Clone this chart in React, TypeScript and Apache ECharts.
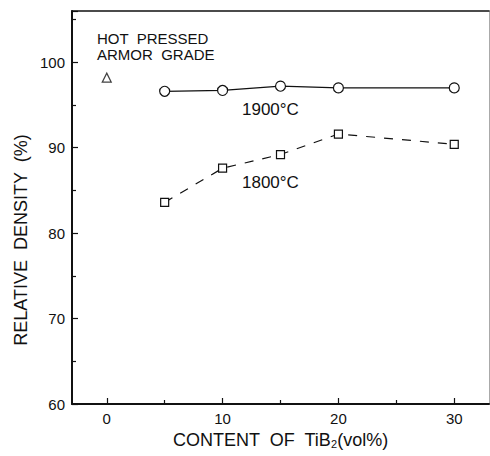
import React, { useEffect, useRef } from "react";
import * as echarts from "echarts";

const contentTiB2 = [5, 10, 15, 20, 30];
const density1900 = [96.6, 96.7, 97.2, 97.0, 97.0];
const density1800 = [83.6, 87.6, 89.2, 91.6, 90.4];
const hotPressedContent = [0];
const hotPressedDensity = [98.2];
const xMajorTicks = [0, 10, 20, 30];
const xMinorTicks = [5, 15, 25];

const FONT = "'Liberation Sans', Arial, sans-serif";
const INK = "#111";

export default function App() {
  const ref = useRef<HTMLDivElement>(null);
  useEffect(() => {
    if (!ref.current) return;
    const chart = echarts.init(ref.current, null, { renderer: "svg" });
    const pairs = (xs: number[], ys: number[]) => xs.map((x, i) => [x, ys[i]]);
    const grid = { left: 72, right: 1, top: 11, bottom: 52 };
    chart.setOption({
      animation: false,
      backgroundColor: "#fff",
      textStyle: { fontFamily: FONT, color: INK },
      grid: { ...grid, show: false },
      xAxis: [
        {
          type: "value",
          min: -3,
          max: 33,
          name: "CONTENT  OF  TiB{s|2}(vol%)",
          nameLocation: "middle",
          nameGap: 27,
          nameTextStyle: {
            fontSize: 18,
            color: INK,
            fontFamily: FONT,
            rich: { s: { fontSize: 11, verticalAlign: "bottom", fontFamily: FONT, color: INK } },
          },
          splitLine: { show: false },
          axisLine: { show: true, onZero: false, lineStyle: { color: INK, width: 2 } },
          axisTick: { show: true, inside: true, length: 6, customValues: xMajorTicks, lineStyle: { color: INK, width: 1.2 } },
          axisLabel: { customValues: xMajorTicks, fontSize: 15, color: INK, margin: 7, fontFamily: FONT },
        },
        {
          type: "value",
          min: -3,
          max: 33,
          position: "bottom",
          splitLine: { show: false },
          axisLine: { show: false },
          axisTick: { show: true, inside: true, length: 4, customValues: xMinorTicks, lineStyle: { color: INK, width: 1.2 } },
          axisLabel: { show: false },
        },
        {
          type: "value",
          min: -3,
          max: 33,
          position: "top",
          splitLine: { show: false },
          axisLine: { show: true, onZero: false, lineStyle: { color: INK, width: 1.5 } },
          axisTick: { show: false },
          axisLabel: { show: false },
        },
      ],
      yAxis: [
        {
          type: "value",
          min: 60,
          max: 106,
          interval: 10,
          splitLine: { show: false },
          axisLine: { show: true, onZero: false, lineStyle: { color: INK, width: 2 } },
          axisTick: { show: true, inside: true, length: 6, lineStyle: { color: INK, width: 1.2 } },
          minorTick: { show: true, splitNumber: 2, length: 4, lineStyle: { color: INK, width: 1.2 } },
          axisLabel: { fontSize: 15, color: INK, margin: 7, fontFamily: FONT, showMaxLabel: false },
        },
        {
          type: "value",
          min: 60,
          max: 106,
          interval: 10,
          position: "right",
          splitLine: { show: false },
          axisLine: { show: true, onZero: false, lineStyle: { color: "#aaa", width: 1 } },
          axisTick: { show: false },
          axisLabel: { show: false },
        },
      ],
      graphic: [
        {
          type: "text",
          x: 21,
          y: 240,
          rotation: Math.PI / 2,
          style: {
            text: "RELATIVE  DENSITY  (%)",
            fontSize: 18,
            fontFamily: FONT,
            fill: INK,
            align: "center",
            verticalAlign: "middle",
          },
        },
        { type: "text", x: 97, y: 38, style: { text: "HOT  PRESSED", fontSize: 15, fontFamily: FONT, fill: INK, verticalAlign: "middle" } },
        { type: "text", x: 97, y: 54.5, style: { text: "ARMOR  GRADE", fontSize: 15, fontFamily: FONT, fill: INK, verticalAlign: "middle" } },
        { type: "text", x: 242, y: 109, style: { text: "1900°C", fontSize: 17, fontFamily: FONT, fill: INK, verticalAlign: "middle" } },
        { type: "text", x: 242, y: 182, style: { text: "1800°C", fontSize: 17, fontFamily: FONT, fill: INK, verticalAlign: "middle" } },
      ],
      series: [
        {
          name: "1900°C",
          type: "line",
          data: pairs(contentTiB2, density1900),
          symbol: "circle",
          symbolSize: 10,
          showSymbol: true,
          lineStyle: { color: INK, width: 1.2 },
          itemStyle: { color: "#fff", borderColor: INK, borderWidth: 1.2 },
          z: 3,
        },
        {
          name: "1800°C",
          type: "line",
          data: pairs(contentTiB2, density1800),
          symbol: "rect",
          symbolSize: 8,
          showSymbol: true,
          lineStyle: { color: INK, width: 1.2, type: [9, 9] },
          itemStyle: { color: "#fff", borderColor: INK, borderWidth: 1.2 },
          z: 3,
        },
        {
          name: "Hot pressed armor grade",
          type: "scatter",
          data: pairs(hotPressedContent, hotPressedDensity),
          symbol: "triangle",
          symbolSize: 9,
          itemStyle: { color: "#fff", borderColor: INK, borderWidth: 1.2 },
        },
      ],
    });
    return () => chart.dispose();
  }, []);
  return (
    <div
      ref={ref}
      style={{ position: "fixed", left: 0, top: 0, width: 490, height: 456, background: "#fff" }}
    />
  );
}
